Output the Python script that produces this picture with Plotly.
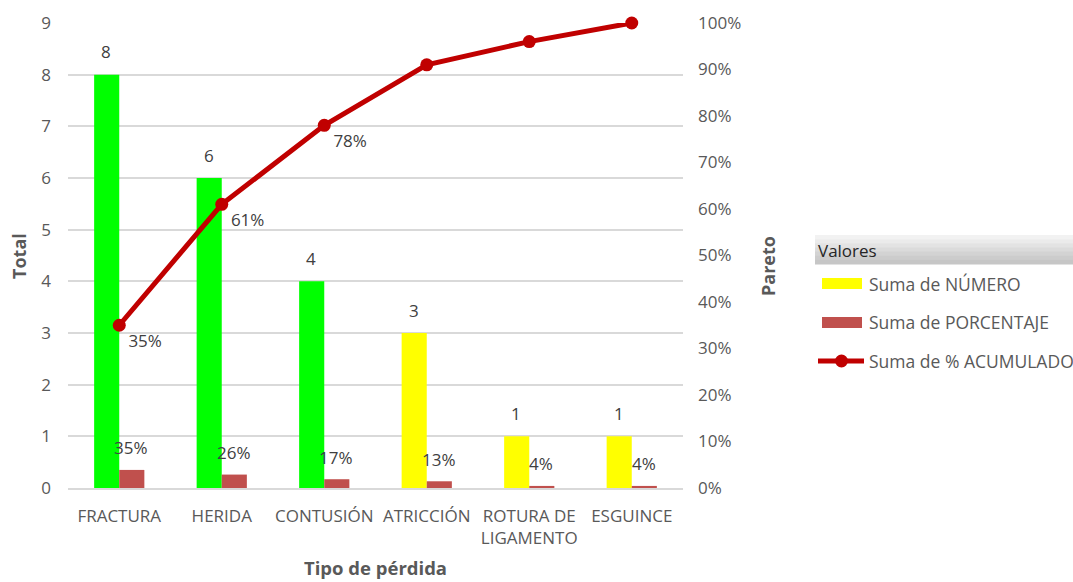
import plotly.graph_objects as go

categories = ["FRACTURA", "HERIDA", "CONTUSIÓN", "ATRICCIÓN", "ROTURA DE<br>LIGAMENTO", "ESGUINCE"]
numero = [8, 6, 4, 3, 1, 1]
porcentaje = [0.35, 0.26, 0.17, 0.13, 0.04, 0.04]
acumulado = [0.35, 0.61, 0.78, 0.91, 0.96, 1.00]
acum_labels = ["35%", "61%", "78%", "", "", ""]
bar_colors = ["#00FF00", "#00FF00", "#00FF00", "#FFFF00", "#FFFF00", "#FFFF00"]

W, H = 1073, 582
L, R, T, B = 68, 683, 23, 488
FONT = "Open Sans"
GRAY = "#595959"
DARK = "#404040"
FS = 17

def px(x):
    return (x - L) / (R - L)

def py(y):
    return (B - y) / (B - T)

fig = go.Figure()
fig.add_trace(go.Bar(x=categories, y=numero, marker=dict(color=bar_colors, line=dict(width=0)),
                     offsetgroup="a", showlegend=False, hoverinfo="skip"))
fig.add_trace(go.Bar(x=categories, y=porcentaje, marker=dict(color="#C0504D", line=dict(width=0)),
                     offsetgroup="b", showlegend=False, hoverinfo="skip"))
fig.add_trace(go.Scatter(x=categories, y=acumulado, yaxis="y2", mode="lines+markers+text",
                         line=dict(color="#C00000", width=5),
                         marker=dict(color="#C00000", size=13),
                         text=acum_labels, textposition="bottom right",
                         textfont=dict(family=FONT, size=FS, color=DARK),
                         cliponaxis=False, showlegend=False, hoverinfo="skip"))

annotations = []
for c, v in zip(categories, numero):
    annotations.append(dict(x=c, y=v, xref="x", yref="y", text=str(v), showarrow=False,
                            xshift=-13, yshift=23, yanchor="middle",
                            font=dict(family=FONT, size=FS, color=DARK)))
for c, v in zip(categories, porcentaje):
    annotations.append(dict(x=c, y=v, xref="x", yref="y", text=f"{round(v*100)}%", showarrow=False,
                            xshift=12, yshift=22, yanchor="middle",
                            font=dict(family=FONT, size=FS, color=DARK)))

# axis titles
annotations.append(dict(x=px(19), y=py(256), xref="paper", yref="paper", text="<b>Total</b>",
                        xanchor="center", yanchor="middle",
                        textangle=-90, showarrow=False, font=dict(family=FONT, size=18, color=GRAY)))
annotations.append(dict(x=px(768), y=py(266), xref="paper", yref="paper", text="<b>Pareto</b>",
                        xanchor="center", yanchor="middle",
                        textangle=-90, showarrow=False, font=dict(family=FONT, size=18, color=GRAY)))
annotations.append(dict(x=px(375), y=py(567), xref="paper", yref="paper", text="<b>Tipo de pérdida</b>",
                        xanchor="center", yanchor="middle",
                        showarrow=False, font=dict(family=FONT, size=18.5, color=GRAY)))

# legend (manual)
shapes = []
grad = ["#f2f2f2", "#ebebeb", "#e3e3e3", "#dbdbdb", "#d3d3d3", "#cccccc", "#c6c6c6"]
top, bot = 235, 264
step = (bot - top) / len(grad)
for i, col in enumerate(grad):
    shapes.append(dict(type="rect", xref="paper", yref="paper", x0=px(815), x1=px(1080),
                       y0=py(top + i * step), y1=py(top + (i + 1) * step + 0.5),
                       fillcolor=col, line=dict(width=0), layer="below"))
annotations.append(dict(x=px(816), y=py(250), xref="paper", yref="paper", text="Valores",
                        xanchor="left", yanchor="middle", showarrow=False,
                        font=dict(family=FONT, size=17, color="#262626")))
shapes.append(dict(type="rect", xref="paper", yref="paper", x0=px(822), x1=px(862), y0=py(289), y1=py(278),
                   fillcolor="#FFFF00", line=dict(width=0)))
shapes.append(dict(type="rect", xref="paper", yref="paper", x0=px(822), x1=px(862), y0=py(328), y1=py(317),
                   fillcolor="#C0504D", line=dict(width=0)))
shapes.append(dict(type="line", xref="paper", yref="paper", x0=px(818), x1=px(864), y0=py(361), y1=py(361),
                   line=dict(color="#C00000", width=5)))
shapes.append(dict(type="circle", xref="paper", yref="paper", x0=px(835), x1=px(848), y0=py(367.5), y1=py(354.5),
                   fillcolor="#C00000", line=dict(width=0)))
for yy, t in [(284, "Suma de NÚMERO"), (322, "Suma de PORCENTAJE"), (361, "Suma de % ACUMULADO")]:
    annotations.append(dict(x=px(867), y=py(yy), xref="paper", yref="paper", text=t, xanchor="left",
                            yanchor="middle", showarrow=False,
                            font=dict(family=FONT, size=17.5, color=GRAY)))

fig.update_layout(
    width=W, height=H,
    margin=dict(l=L, r=W - R, t=T, b=H - B, autoexpand=False),
    paper_bgcolor="white", plot_bgcolor="white",
    barmode="group", bargap=0.51, bargroupgap=0,
    font=dict(family=FONT, size=FS, color=GRAY),
    xaxis=dict(showgrid=False, showline=True, linecolor="#D9D9D9", linewidth=1.5,
               tickfont=dict(family=FONT, size=FS, color=GRAY), ticks="", ticklabelstandoff=12),
    yaxis=dict(range=[0, 9], dtick=1, showgrid=True, gridcolor="#D9D9D9", gridwidth=1.5, zeroline=False,
               showline=False, tickfont=dict(family=FONT, size=FS, color=GRAY), ticks="",
               ticklabelstandoff=16),
    yaxis2=dict(range=[0, 1], dtick=0.1, tickformat=".0%", overlaying="y", side="right",
                showgrid=False, zeroline=False, showline=False, ticks="",
                tickfont=dict(family=FONT, size=FS, color=GRAY), ticklabelstandoff=14),
    annotations=annotations, shapes=shapes, showlegend=False,
)

fig.write_html("out.html")
